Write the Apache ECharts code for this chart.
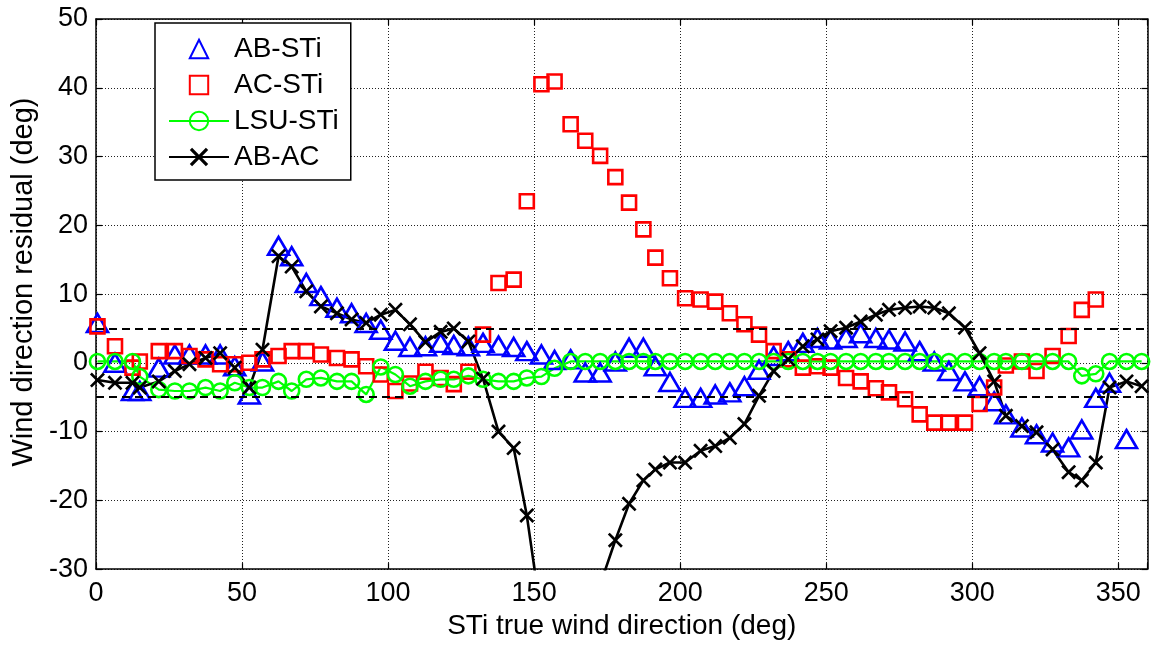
<!DOCTYPE html>
<html>
<head>
<meta charset="utf-8">
<script src="https://cdn.jsdelivr.net/npm/echarts@6/dist/echarts.min.js"></script>
<style>
html,body{margin:0;padding:0;background:#fff;}
#chart{width:1152px;height:645px;}
</style>
</head>
<body>
<div id="chart"></div>
<script>
// STi true wind direction samples (deg)
const directions = [0.5, 6.5, 12.5, 15, 21.5, 27, 32, 37.5, 42.5, 47.5,
  52.5, 57, 62.5, 67, 72, 77, 82.5, 87.5, 92.5, 97.5,
  102.5, 107.5, 112.8, 118, 122.5, 127.5, 132.5, 137.8, 143, 147.5,
  152.5, 157, 162.5, 167.5, 172.6, 177.8, 182.5, 187.4, 191.5, 196.5,
  201.7, 207, 212, 217, 222, 227, 232, 237, 242, 247,
  251.5, 256.8, 261.8, 267, 271.5, 277, 282, 287, 292, 297.5,
  302.5, 307.5, 311.5, 317, 322, 327.5, 333, 337.5, 342.3, 347,
  352.8, 358];

const abSti = [5.8, 0, -4.1, -4.1, -0.7, 1.2, 1.2, 1.2, 1.2, -0.5,
  -4.6, 0.2, 17, 15.5, 11.6, 9.7, 8.0, 7.2, 5.8, 4.8,
  3.2, 2.3, 2.4, 2.9, 2.6, 2.4, 2.9, 2.5, 2.3, 1.7,
  1.2, 0.4, 0.5, -1.4, -1.4, 0.2, 2.2, 2.2, -0.5, -2.8,
  -5.1, -5.1, -4.6, -4.3, -3.4, -1.0, 1.0, 1.7, 2.9, 3.6,
  3.4, 3.6, 4.3, 3.6, 3.4, 3.1, 1.7, 0.2, -1.2, -2.7,
  -3.4, -5.6, -7.5, -9.4, -10.4, -11.6, -12.3, -9.7, -5.1, -2.9,
  -11.1, null];

const acSti = [5.3, 2.4, -0.7, 0.2, 1.7, 1.7, 1.0, 0.5, -0.2, -0.2,
  0, 0.5, 1.0, 1.7, 1.7, 1.2, 0.7, 0.5, -0.5, -1.7,
  -4.1, -3.0, -1.3, -2.2, -3.1, -1.3, 4.1, 11.6, 12.1, 23.5,
  40.5, 40.9, 34.7, 32.3, 30.1, 27, 23.3, 19.4, 15.3, 12.3,
  9.4, 9.2, 8.9, 7.2, 5.6, 4.1, 1.7, 0.5, -0.7, -0.5,
  -0.7, -2.2, -2.7, -3.7, -4.3, -5.3, -7.5, -8.7, -8.7, -8.7,
  -6.0, -3.6, -0.4, 0.2, -1.2, 1.0, 3.9, 7.7, 9.2, null,
  null, null];

const lsuSti = [0.2, 0.2, 0.2, -2.0, -3.9, -4.1, -4.1, -3.6, -4.1, -2.9,
  -3.6, -3.6, -2.7, -4.1, -2.4, -2.2, -2.7, -2.7, -4.6, -0.6,
  -1.7, -3.4, -2.7, -2.4, -2.4, -1.9, -2.4, -2.7, -2.7, -2.2,
  -2.0, -0.8, 0.2, 0.2, 0.2, 0.2, 0.2, 0.2, 0.2, 0.2,
  0.2, 0.2, 0.2, 0.2, 0.2, 0.2, 0.2, 0.2, 0.2, 0.2,
  0.2, 0.2, 0.2, 0.2, 0.2, 0.2, 0.2, 0.2, 0.2, 0.2,
  0.2, 0.2, 0.2, 0.2, 0.2, 0.2, 0.2, -1.9, -1.6, 0.2,
  0.2, 0.2];

const abAc = [-2.5, -2.9, -2.9, -3.6, -2.7, -1.2, -0.2, 0.7, 1.4, -0.7,
  -3.6, 1.9, 15.5, 14, 10.4, 8.2, 7.2, 6.3, 5.8, 7.0,
  7.7, 5.6, 3.0, 4.5, 5.0, 3.1, -2.3, -10.0, -12.4, -22.2,
  -37, -45, -48, -42, -32.3, -25.8, -20.5, -17.1, -15.5, -14.5,
  -14.5, -12.8, -12.1, -10.9, -8.9, -4.8, -1.2, 0.5, 2.4, 3.4,
  4.6, 5.1, 6.0, 7.0, 7.7, 8.0, 8.2, 8.0, 7.2, 5.1,
  1.4, -2.7, -7.7, -9.2, -10.1, -12.6, -15.9, -17.1, -14.5, -3.6,
  -2.7, -3.4];

const thresholds = [5, -5];
const xRange = [0, 360];
const yRange = [-30, 50];
const xStep = 50;
const yStep = 10;

function pairs(ys) {
  const out = [];
  directions.forEach((d, i) => { if (ys[i] !== null && ys[i] !== undefined) out.push([d, ys[i]]); });
  return out;
}

const FONT = "'Liberation Sans', Arial, sans-serif";
const crossPath = 'path://M0,1.5L1.5,0L6,4.5L10.5,0L12,1.5L7.5,6L12,10.5L10.5,12L6,7.5L1.5,12L0,10.5L4.5,6Z';

const gridLine = { show: true, lineStyle: { color: '#222', type: [1, 2], width: 1 } };
const axisLine = { show: true, onZero: false, lineStyle: { color: '#000', width: 1.5 } };
const tick = { show: true, inside: true, length: 6, lineStyle: { color: '#000', width: 1.2 } };

const chart = echarts.init(document.getElementById('chart'), null, { renderer: 'canvas' });
chart.setOption({
  animation: false,
  backgroundColor: '#fff',
  textStyle: { fontFamily: FONT },
  grid: { left: 96, right: 4.5, top: 19, bottom: 73, containLabel: false },
  legend: {
    orient: 'vertical',
    left: 155, top: 23,
    padding: [12, 12, 9, 13],
    itemWidth: 60, itemHeight: 23, itemGap: 8,
    backgroundColor: '#fff',
    borderColor: '#000', borderWidth: 1.5,
    textStyle: { fontFamily: FONT, fontSize: 28, lineHeight: 28, color: '#000' },
    data: ['AB-STi', 'AC-STi', 'LSU-STi', 'AB-AC']
  },
  xAxis: [{
    type: 'value', min: xRange[0], max: xRange[1], interval: xStep,
    name: 'STi true wind direction (deg)', nameLocation: 'middle', nameGap: 42,
    nameTextStyle: { fontFamily: FONT, fontSize: 28, color: '#000' },
    axisLine: axisLine, axisTick: tick,
    axisLabel: { fontFamily: FONT, fontSize: 27, color: '#000', margin: 11,
      formatter: v => (v === xRange[1] ? '' : String(v)) },
    splitLine: gridLine
  }, {
    type: 'value', position: 'top', min: xRange[0], max: xRange[1], interval: xStep,
    axisLine: axisLine, axisTick: tick, axisLabel: { show: false }, splitLine: { show: false }
  }],
  yAxis: [{
    type: 'value', min: yRange[0], max: yRange[1], interval: yStep,
    name: 'Wind direction residual (deg)', nameLocation: 'middle', nameGap: 56,
    nameTextStyle: { fontFamily: FONT, fontSize: 29, color: '#000', padding: [0, 0, 0, 24] },
    axisLine: axisLine, axisTick: tick,
    axisLabel: { fontFamily: FONT, fontSize: 27, color: '#000', margin: 8 },
    splitLine: gridLine
  }, {
    type: 'value', position: 'right', min: yRange[0], max: yRange[1], interval: yStep,
    axisLine: axisLine, axisTick: tick, axisLabel: { show: false }, splitLine: { show: false }
  }],
  series: [
    {
      name: 'AB-STi', type: 'line', data: pairs(abSti),
      symbol: 'triangle', symbolSize: [21, 18], showSymbol: true,
      lineStyle: { width: 0, opacity: 0 },
      itemStyle: { color: 'rgba(0,0,0,0)', borderColor: '#0000ff', borderWidth: 2.6 },
      emphasis: { disabled: true },
      markLine: {
        silent: true, symbol: 'none', label: { show: false },
        lineStyle: { color: '#000', type: [8, 5], width: 2.2 },
        data: thresholds.map(t => ({ yAxis: t }))
      }
    },
    {
      name: 'AC-STi', type: 'line', data: pairs(acSti),
      symbol: 'rect', symbolSize: 14, showSymbol: true,
      lineStyle: { width: 0, opacity: 0 },
      itemStyle: { color: 'rgba(0,0,0,0)', borderColor: '#ff0000', borderWidth: 2.6 },
      emphasis: { disabled: true }
    },
    {
      name: 'LSU-STi', type: 'line', data: pairs(lsuSti),
      symbol: 'circle', symbolSize: 15, showSymbol: true,
      lineStyle: { width: 2.2, color: '#00ff00' },
      itemStyle: { color: 'rgba(0,0,0,0)', borderColor: '#00ff00', borderWidth: 2.6 },
      emphasis: { disabled: true }
    },
    {
      name: 'AB-AC', type: 'line', data: pairs(abAc),
      symbol: crossPath, symbolSize: 15, showSymbol: true,
      lineStyle: { width: 2.6, color: '#000' },
      itemStyle: { color: '#000' },
      emphasis: { disabled: true }
    }
  ]
});
</script>
</body>
</html>
